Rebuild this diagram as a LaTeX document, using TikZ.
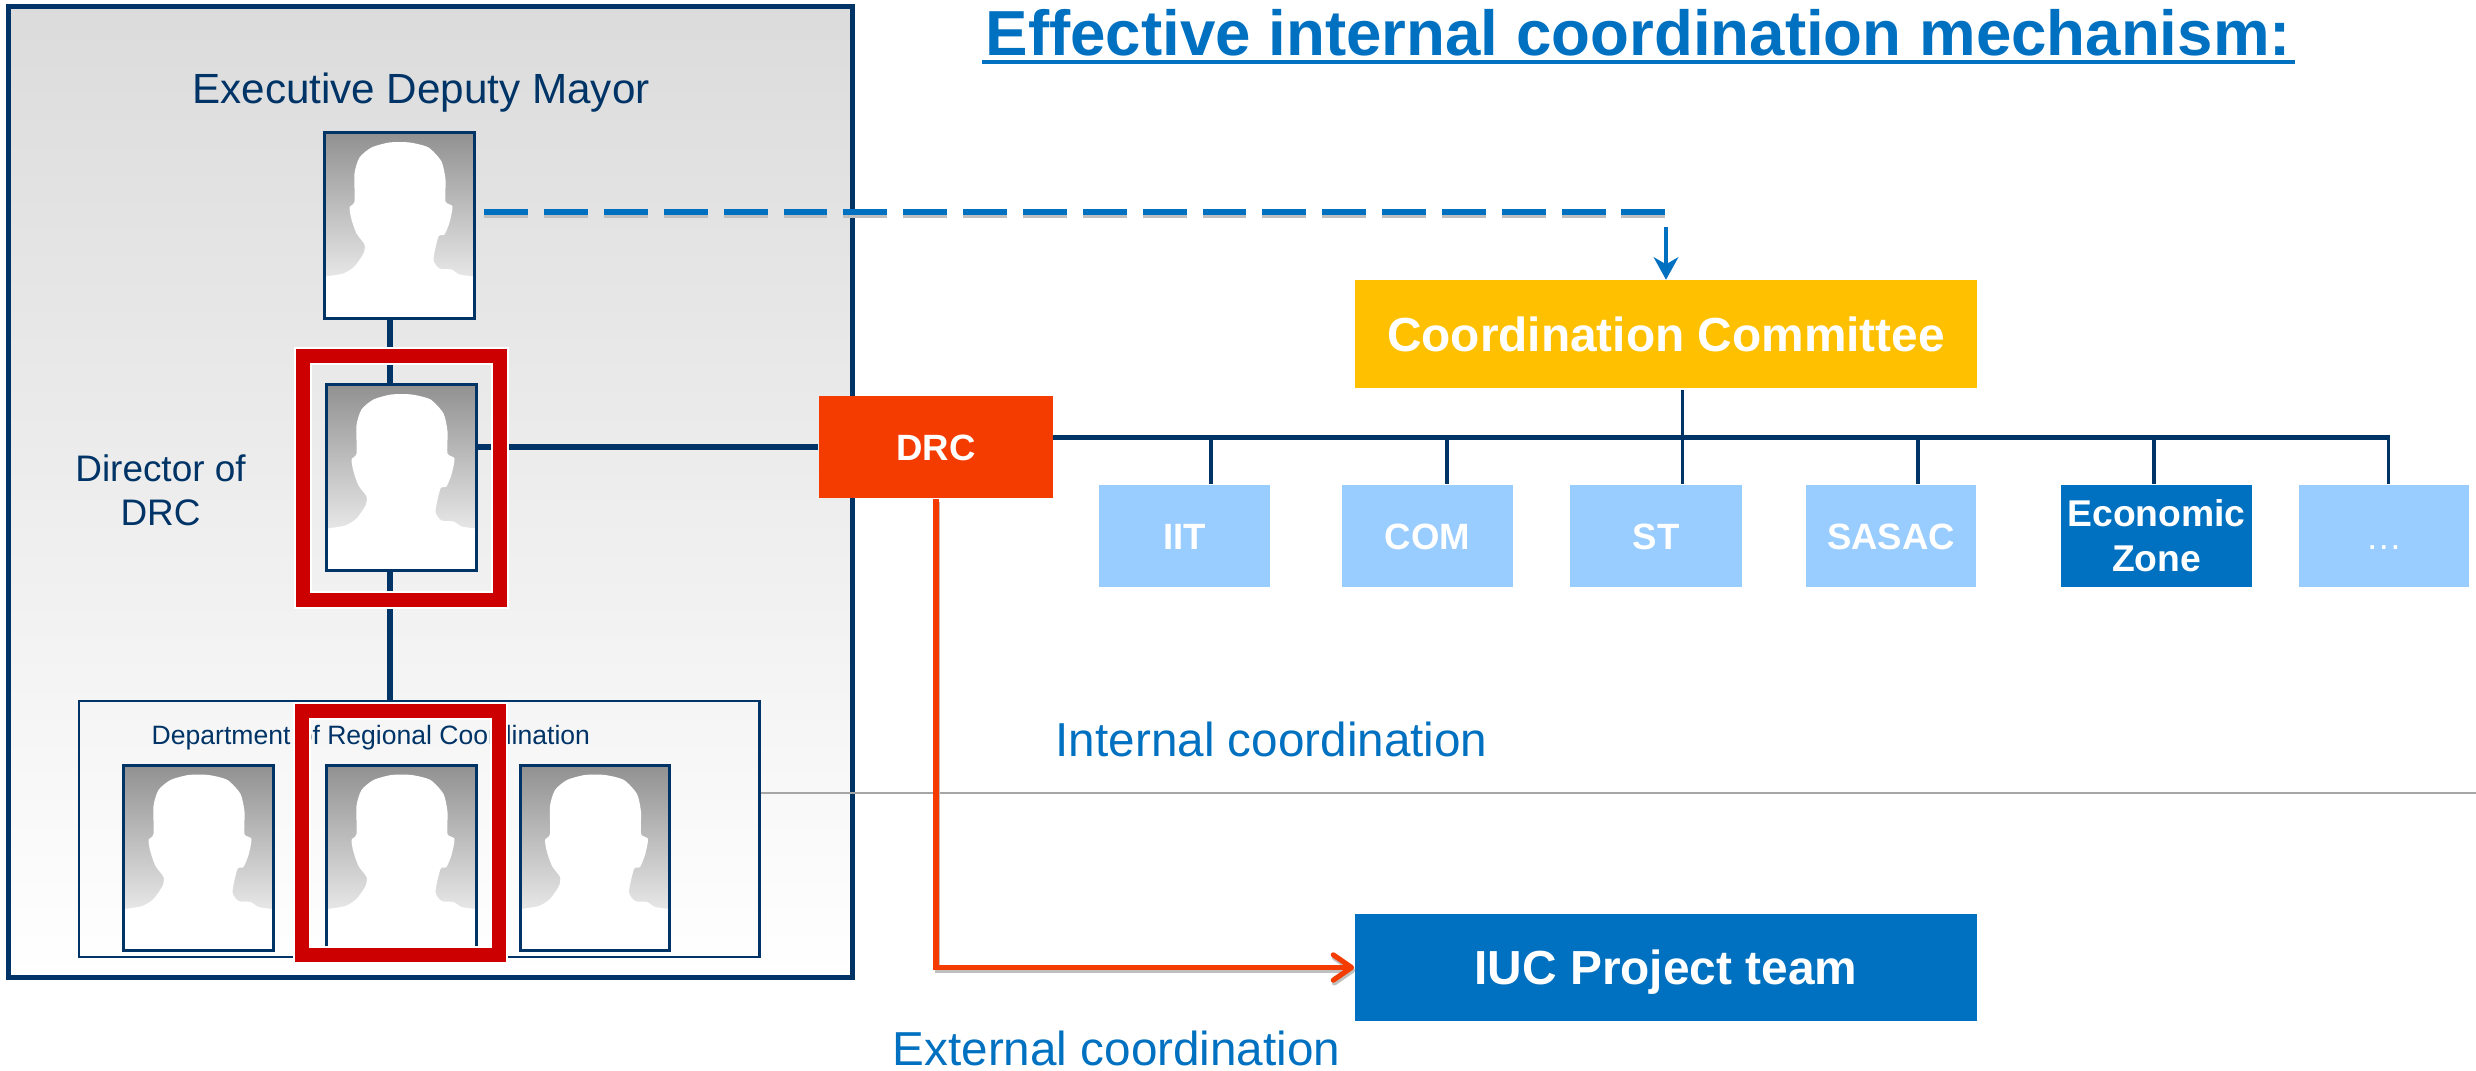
\documentclass[tikz,border=0pt]{standalone}
\usepackage{fontspec}
\setmainfont{Liberation Sans}
\usetikzlibrary{arrows.meta}
\definecolor{navy}{HTML}{003366}
\definecolor{framered}{HTML}{CC0000}
\definecolor{midblue}{HTML}{0070C0}
\definecolor{paleblue}{HTML}{99CCFF}
\definecolor{drcorange}{HTML}{F53C00}
\definecolor{amber}{HTML}{FFC000}
\tikzset{
    photobox/.style={top color=black!43, bottom color=white, minimum width=1.48cm, minimum height=1.84cm, inner sep=0pt},
    photoline/.style={draw=navy, line width=0.75pt},
    redframe/.style={draw=framered, line width=3.97pt, preaction={draw=white, line width=5.1pt}, minimum width=1.97cm, minimum height=2.44cm, inner sep=0pt},
    navyline/.style={draw=navy, line width=1.7pt},
    busline/.style={draw=navy, line width=1pt},
    smallbox/.style={fill=paleblue, text=white, font=\fontsize{10.4}{12.8}\selectfont\bfseries, minimum height=1.02cm, inner sep=0pt, text height=7.5pt, text depth=0pt},
    bigbox/.style={text=white, font=\fontsize{13.6}{16}\selectfont\bfseries, inner sep=0pt, text height=9.8pt, text depth=0pt},
    navylabel/.style={text=navy, inner sep=0pt},
    bluelabel/.style={text=midblue, inner sep=0pt, font=\fontsize{13.55}{16}\selectfont, anchor=base west}
}
\newcommand{\personphoto}[2]{
    \node[photobox] (#1) at (#2) {};
    \begin{scope}[shift={(#1.center)}]
    \fill[white] plot[smooth, tension=0.4] coordinates {(-74,51) (-56,48) (-45,41) (-36,28) (-35,19) (-43,8) (-48,-6) (-50,-18) (-45,-24) (-45,-52) (-40,-68) (-28,-78) (-10,-83) (10,-83) (29,-78) (42,-64) (46,-46) (46,-24) (53,-19) (50,-3) (45,9) (39,11) (34,34) (40,43) (52,44) (60,49) (74,51)} -- (74,92) -- (-74,92) -- cycle;
    \end{scope}
    \draw[photoline] (#1.south west) rectangle (#1.north east);
}
\begin{document}
\begin{tikzpicture}[x=0.01cm, y=-0.01cm]
    \useasboundingbox (0,0) rectangle (2476,1071);

    \node[draw=navy, line width=1.28pt, top color=black!14, bottom color=white, minimum width=8.434cm, minimum height=9.703cm, inner sep=0pt] (panel) at (430.3,491.85) {};

    \node[draw=navy, line width=0.7pt, minimum width=6.8cm, minimum height=2.56cm, inner sep=0pt] (dept) at (419.25,829) {};
    \coordinate (stem) at (390,500);
    \node[navylabel, font=\fontsize{12}{14.4}\selectfont, anchor=base] (mayorlabel) at (421,103.6) {Executive Deputy Mayor};
    \node[navylabel, font=\fontsize{10.5}{12.6}\selectfont, align=center] (directorlabel) at (160.5,490) {Director of\\DRC};
    \node[navylabel, font=\fontsize{7.55}{9}\selectfont, anchor=base west] (deptlabel) at (151,745) {Department of Regional Coordination};

    \personphoto{mayor}{399.5,225.5}
    \draw[navyline] (stem |- mayor.south) -- (stem |- dept.north);
    \personphoto{director}{401.5,477.5}
    \personphoto{deptleft}{198.5,858}
    \personphoto{deptmid}{401.5,858}
    \personphoto{deptright}{595,858}

    \node[fill=drcorange, text=white, font=\fontsize{10.4}{12.8}\selectfont\bfseries, minimum width=2.34cm, minimum height=1.02cm, inner sep=0pt, text height=7.5pt, text depth=0pt] (drc) at (936,447) {DRC};
    \draw[navyline] (drc.west -| director.east) -- (drc.west);

    \node[redframe] (frameone) at (401.5,478) {};
    \node[redframe] (frametwo) at (400.25,833) {};

    \node[bigbox, fill=amber, minimum width=6.22cm, minimum height=1.07cm] (committee) at (1666,334) {Coordination Committee};
    \node[bigbox, fill=midblue, minimum width=6.22cm, minimum height=1.07cm] (iuc) at (1666,967.5) {IUC Project team};

    \node[smallbox, minimum width=1.71cm] (iit) at (1184.5,536) {IIT};
    \node[smallbox, minimum width=1.71cm] (com) at (1427.5,536) {COM};
    \node[smallbox, minimum width=1.72cm] (st) at (1656,536) {ST};
    \node[smallbox, minimum width=1.70cm] (sasac) at (1891,536) {SASAC};
    \node[fill=midblue, text=white, font=\fontsize{10.6}{12.8}\selectfont\bfseries, minimum width=1.91cm, minimum height=1.02cm, inner sep=0pt, align=center] (zone) at (2156.5,536) {Economic\\Zone};
    \node[smallbox, minimum width=1.70cm, font=\fontsize{10.4}{12.8}\selectfont] (more) at (2384,536) {…};

    \coordinate (busleft) at (1053,437.5);
    \coordinate (busright) at (2390,437.5);
    \draw[draw=navy, line width=1.35pt] (busleft) -- (busright);
    \foreach \x/\b in {1211/iit,1447/com,1682.5/st,1918/sasac,2154/zone,2388.5/more}
    {
        \coordinate (drop\b) at (\x,437.5);
        \draw[busline] (drop\b) -- (drop\b |- \b.north);
    }
    \draw[busline, shorten <=0.02cm] (dropst |- committee.south) -- (dropst);

    \coordinate (dashend) at (1666,212);
    \draw[draw=midblue, line width=1.5pt, dash pattern=on 12.48pt off 4.54pt, shorten <=0.1cm, preaction={draw=black!25, line width=1.5pt, dash pattern=on 12.48pt off 4.54pt, shorten <=0.1cm, transform canvas={yshift=-0.9pt}}] (dashend -| mayor.east) -- (dashend);
    \draw[draw=midblue, line width=0.95pt, shorten <=0.15cm, -{Stealth[length=6.4pt, width=7pt, inset=2pt]}] (dashend) -- (dashend |- committee.north);

    \coordinate (lineend) at (2476,793);
    \draw[draw=black!35, line width=0.45pt] (lineend -| dept.east) -- (lineend);
    \draw[draw=drcorange, line width=1.45pt, preaction={draw=black!25, line width=1.45pt, transform canvas={shift={(0.3pt,-0.8pt)}}}, -{Straight Barb[length=5.2pt, width=7.2pt, round]}] (drc.south) |- (iuc.west);

    \node[bluelabel] (internal) at (1055,757) {Internal coordination};
    \node[bluelabel] (external) at (892,1066) {External coordination};

    \node[text=midblue, font=\fontsize{18.1}{22}\selectfont\bfseries, inner sep=0pt, anchor=base west] (title) at (985,56) {Effective internal coordination mechanism:};
    \draw[draw=midblue, line width=0.95pt] ([shift={(-3,6)}]title.base west) -- ([shift={(3,6)}]title.base east);
\end{tikzpicture}
\end{document}
